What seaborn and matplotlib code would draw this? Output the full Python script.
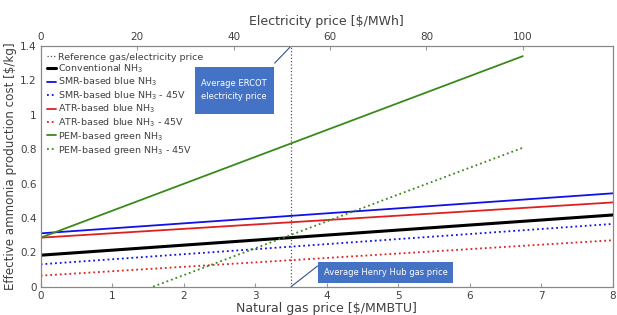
import pandas as pd
import matplotlib.pyplot as plt
import seaborn as sns
from matplotlib.patches import Rectangle

# data (straight lines, so endpoints are enough)
gas_price = [0, 8]                       # $/MMBTU
conventional = [0.183, 0.417]
smr_blue = [0.310, 0.543]
smr_blue_45v = [0.130, 0.365]
atr_blue = [0.285, 0.490]
atr_blue_45v = [0.064, 0.270]

elec_price = [0, 100]                    # $/MWh
pem_green = [0.285, 1.341]
elec_price_45v = [23.3, 100]
pem_green_45v = [0.0, 0.808]

ref_gas = 3.5                            # Henry Hub average
gas_max = 8
elec_max = 118.7                         # top axis limit that lines up with gas 8

sns.set_style("white")
plt.rcParams['font.family'] = ['DejaVu Sans']
txt = '#404040'
box_col = '#4472c4'
link_col = '#2f528f'

fig = plt.figure(figsize=(6.17, 3.15), dpi=100)
ax = fig.add_axes([0.066, 0.09, 0.9275, 0.764])
ax2 = ax.twiny()

gas_lines = [
    (conventional, 'Conventional NH$_3$', 'black', '-', 2.2),
    (smr_blue, 'SMR-based blue NH$_3$', '#1010e8', '-', 1.3),
    (smr_blue_45v, 'SMR-based blue NH$_3$ - 45V', '#1010e8', ':', 1.3),
    (atr_blue, 'ATR-based blue NH$_3$', '#e02020', '-', 1.3),
    (atr_blue_45v, 'ATR-based blue NH$_3$ - 45V', '#e02020', ':', 1.3),
]

handles = []
h, = ax.plot([ref_gas, ref_gas], [0, 1.4], ls=':', color='#555555', lw=0.9,
             label='Reference gas/electricity price')
handles.append(h)
for vals, lab, col, ls, lw in gas_lines:
    df = pd.DataFrame({'x': gas_price, 'y': vals})
    sns.lineplot(data=df, x='x', y='y', ax=ax, color=col, lw=lw, ls=ls, label=lab, legend=False)
    handles.append(ax.lines[-1])

df = pd.DataFrame({'x': elec_price, 'y': pem_green})
sns.lineplot(data=df, x='x', y='y', ax=ax2, color='#3a8a1a', lw=1.3, legend=False)
handles.append(ax2.lines[-1])
handles[-1].set_label('PEM-based green NH$_3$')
df = pd.DataFrame({'x': elec_price_45v, 'y': pem_green_45v})
sns.lineplot(data=df, x='x', y='y', ax=ax2, color='#3a8a1a', lw=1.3, ls=':', legend=False)
handles.append(ax2.lines[-1])
handles[-1].set_label('PEM-based green NH$_3$ - 45V')

ax.set_xlim(0, gas_max)
ax.set_ylim(0, 1.4)
ax2.set_xlim(0, elec_max)
ax2.set_ylim(0, 1.4)

ax.set_yticks([0, 0.2, 0.4, 0.6, 0.8, 1.0, 1.2, 1.4])
ax.set_yticklabels(['0', '0.2', '0.4', '0.6', '0.8', '1', '1.2', '1.4'])
ax.set_xticks(range(0, 9))
ax2.set_xticks([0, 20, 40, 60, 80, 100])

for a in (ax, ax2):
    a.tick_params(colors=txt, labelsize=7.5, length=3, pad=3, direction='in')
    a.tick_params(axis='both', color='#999999')
    for s in a.spines.values():
        s.set_color('#888888')
        s.set_linewidth(0.8)

ax.set_xlabel('Natural gas price [$/MMBTU]', color=txt, fontsize=9, labelpad=1)
ax.set_ylabel('Effective ammonia production cost [$/kg]', color=txt, fontsize=8.6, labelpad=2)
ax2.set_xlabel('Electricity price [$/MWh]', color=txt, fontsize=9, labelpad=5)

leg = ax.legend(handles=handles, loc='upper left', frameon=False, fontsize=6.8,
                handlelength=0.9, handletextpad=0.2, labelspacing=0.1,
                borderaxespad=0.3)
for t in leg.get_texts():
    t.set_color(txt)

# callout boxes (positions in data units of the gas axis)
ax.add_patch(Rectangle((2.155, 1.007), 1.10, 0.273, fc=box_col, ec='none', zorder=5))
ax.text(2.705, 1.143, 'Average ERCOT\nelectricity price', ha='center', va='center',
        color='white', fontsize=6, linespacing=1.5, zorder=6)
ax.plot([3.27, 3.5], [1.3, 1.4], color=link_col, lw=0.8, zorder=5)

ax.add_patch(Rectangle((3.87, 0.02), 1.90, 0.122, fc=box_col, ec='none', zorder=5))
ax.text(4.82, 0.081, 'Average Henry Hub gas price', ha='center', va='center',
        color='white', fontsize=6, zorder=6)
ax.plot([3.5, 3.87], [0.0, 0.12], color=link_col, lw=0.8, zorder=5)

fig.savefig('out.png', dpi=100)
